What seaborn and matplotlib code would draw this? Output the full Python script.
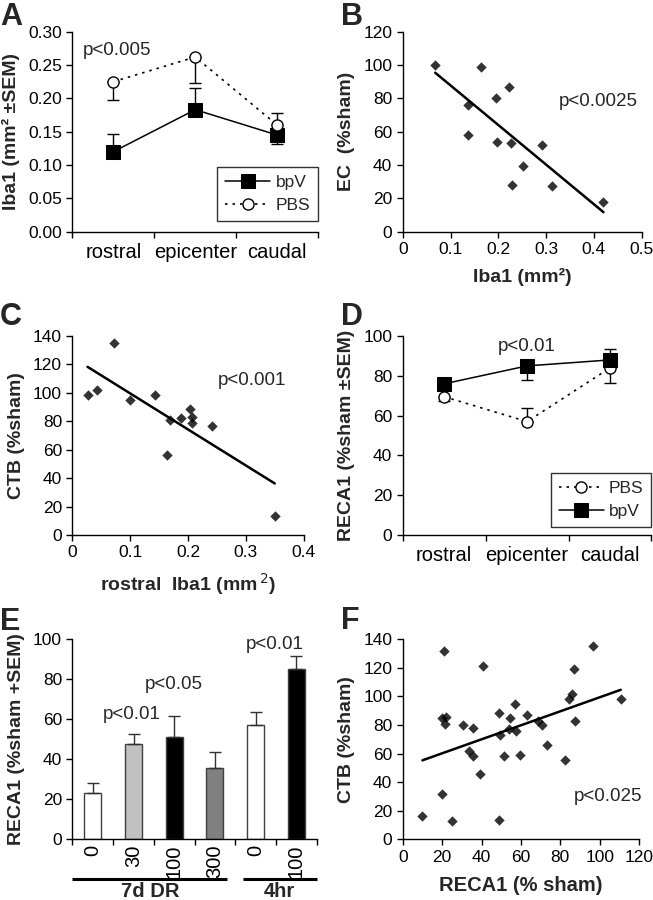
import numpy as np
import pandas as pd
import matplotlib
matplotlib.use("Agg")
import matplotlib.pyplot as plt
import matplotlib.transforms as mtransforms
import seaborn as sns

# ---- data ----
regions = ["rostral", "epicenter", "caudal"]

# A: Iba1 area (mm2), one-sided SEM (+1 up, -1 down)
a_bpv = [0.120, 0.183, 0.145]
a_bpv_sem = [0.026, 0.032, 0.013]
a_bpv_dir = [1, 1, -1]
a_pbs = [0.225, 0.262, 0.160]
a_pbs_sem = [0.027, 0.039, 0.018]
a_pbs_dir = [-1, -1, 1]

# B: EC vs Iba1
b_iba1 = [0.068, 0.163, 0.223, 0.195, 0.137, 0.137, 0.197, 0.226, 0.291, 0.252, 0.229, 0.312, 0.420]
b_ec = [100, 99, 87, 80.5, 76, 58, 54, 53.5, 52, 39.5, 28, 27.5, 17.5]

# C: CTB vs rostral Iba1
c_iba1 = [0.026, 0.042, 0.072, 0.099, 0.143, 0.163, 0.168, 0.188, 0.203, 0.207, 0.207, 0.242, 0.350]
c_ctb = [98.5, 102, 135, 95, 98.5, 56, 81, 82.5, 89, 83, 79, 76.5, 13.5]

# D: RECA1 (%sham)
d_pbs = [69.5, 57, 84]
d_pbs_sem = [2, 7, 7.5]
d_pbs_dir = [-1, 1, -1]
d_bpv = [76, 85, 88]
d_bpv_sem = [1.5, 7.3, 5.6]
d_bpv_dir = [1, -1, 1]

# E: RECA1 by dose
e_dose = ["0", "30", "100", "300", "0", "100"]
e_group = ["7d DR", "7d DR", "7d DR", "7d DR", "4hr", "4hr"]
e_mean = [23, 47.7, 51.3, 35.8, 57.2, 85.2]
e_sem = [5, 4.8, 10.5, 7.7, 6.5, 6.5]
e_colors = ["white", "#c0c0c0", "black", "#808080", "white", "black"]

# F: CTB vs RECA1
f_reca = [10, 25, 49, 20, 21, 41, 19.8, 21.8, 21.5, 30.8, 35.5, 33.6, 35.5, 39.2, 48.7,
          49.4, 51.2, 54.4, 54, 57.3, 57, 59.5, 63.2, 68.8, 70.8, 73.5, 82.5, 84.5, 86,
          87, 87.5, 96.7, 110.7]
f_ctb = [16, 12.6, 13.5, 31.7, 131.8, 121.3, 84.7, 85.4, 80.7, 80, 78.2, 61.8, 58, 45.7,
         88.7, 73, 58.3, 84.7, 77, 75.6, 94.7, 59, 87, 82.6, 80.3, 66, 55.5, 98.2, 101.7,
         119.2, 83.1, 135.3, 98.5]

# ---- style ----
sns.set_style("ticks")
plt.rcParams.update({
    "font.family": ["Liberation Sans", "DejaVu Sans"],
    "axes.linewidth": 1.0,
    "axes.edgecolor": "black",
    "xtick.major.size": 4,
    "ytick.major.size": 4,
    "xtick.major.width": 1.0,
    "ytick.major.width": 1.0,
    "xtick.color": "black",
    "ytick.color": "black",
    "xtick.labelsize": 12.5,
    "ytick.labelsize": 12.5,
    "axes.labelsize": 14,
    "axes.labelweight": "bold",
    "legend.fontsize": 12.5,
})

fig = plt.figure(figsize=(6.53, 9), dpi=100)
axA = fig.add_axes([0.111, 0.7426, 0.376, 0.2222])
axB = fig.add_axes([0.6167, 0.7426, 0.366, 0.2222])
axC = fig.add_axes([0.111, 0.4056, 0.354, 0.2210])
axD = fig.add_axes([0.6167, 0.4056, 0.381, 0.2210])
axE = fig.add_axes([0.111, 0.0674, 0.374, 0.2222])
axF = fig.add_axes([0.6167, 0.0674, 0.362, 0.2222])

for ax in [axA, axB, axC, axD, axE, axF]:
    sns.despine(ax=ax)
    ax.tick_params(direction="out")

def onesided(sem, sign):
    sem = np.asarray(sem, float)
    sign = np.asarray(sign)
    return np.vstack([np.where(sign < 0, sem, 0), np.where(sign > 0, sem, 0)])

def region_axis(ax):
    n = len(regions)
    ax.set_xlim(-0.5, n - 0.5)
    ax.set_xticks(np.arange(n + 1) - 0.5)
    ax.set_xticklabels([])
    ax.set_xticks(np.arange(n), minor=True)
    ax.set_xticklabels(regions, minor=True, fontsize=14.5)
    ax.tick_params(axis="x", which="minor", length=0, pad=8)

def group_line(ax, name, mean, sem, sgn, dotted):
    x = np.arange(len(mean))
    if dotted:
        kw = dict(marker="o", markersize=8, markerfacecolor="white", markeredgecolor="black",
                  markeredgewidth=1.0, linestyle=(0, (1.5, 3)), linewidth=1.2)
    else:
        kw = dict(marker="s", markersize=9.5, markerfacecolor="black", markeredgecolor="black",
                  linestyle="-", linewidth=1.1)
    ax.errorbar(x, mean, yerr=onesided(sem, sgn), fmt="none", ecolor="black",
                elinewidth=1.0, capsize=4, capthick=1.0, zorder=2)
    sns.lineplot(x=x, y=mean, ax=ax, color="black", label=name, zorder=3, **kw)

def legend_box(ax, y0):
    lg = ax.legend(loc="lower right", bbox_to_anchor=(1.0, y0), fancybox=False,
                   edgecolor="black", handlelength=2.6, handletextpad=0.3,
                   borderpad=0.45, labelspacing=0.45, borderaxespad=0.0)
    lg.get_frame().set_linewidth(1.0)

# ---- A ----
group_line(axA, "bpV", a_bpv, a_bpv_sem, a_bpv_dir, False)
group_line(axA, "PBS", a_pbs, a_pbs_sem, a_pbs_dir, True)
region_axis(axA)
axA.set_ylim(0, 0.30)
axA.set_yticks(np.arange(0, 0.301, 0.05))
axA.set_yticklabels([f"{v:.2f}" for v in np.arange(0, 0.301, 0.05)])
axA.set_ylabel("Iba1 (mm² ±SEM)", labelpad=6)
axA.set_xlabel("")
axA.text(-0.38, 0.2725, "p<0.005", fontsize=13.5, va="center", ha="left")
legend_box(axA, 0.055)

# ---- B ----
sns.regplot(x=b_iba1, y=b_ec, ax=axB, ci=None, color="black", marker="D",
            scatter_kws=dict(s=28, linewidths=0), line_kws=dict(linewidth=1.8))
axB.set_xlim(0, 0.5)
axB.set_ylim(0, 120)
axB.set_xticks(np.arange(0, 0.51, 0.1))
axB.set_xticklabels(["0", "0.1", "0.2", "0.3", "0.4", "0.5"])
axB.set_yticks(np.arange(0, 121, 20))
axB.set_xlabel("Iba1 (mm²)", labelpad=8)
axB.set_ylabel("EC  (%sham)", labelpad=6)
axB.text(0.326, 78.4, "p<0.0025", fontsize=13.5, va="center", ha="left")

# ---- C ----
sns.regplot(x=c_iba1, y=c_ctb, ax=axC, ci=None, color="black", marker="D",
            scatter_kws=dict(s=28, linewidths=0), line_kws=dict(linewidth=1.8))
axC.set_xlim(0, 0.4)
axC.set_ylim(0, 140)
axC.set_xticks(np.arange(0, 0.41, 0.1))
axC.set_xticklabels(["0", "0.1", "0.2", "0.3", "0.4"])
axC.set_yticks(np.arange(0, 141, 20))
axC.set_xlabel("rostral  Iba1 (mm$^{\\,2}$)", labelpad=8)
axC.set_ylabel("CTB (%sham)", labelpad=6)
axC.text(0.251, 109, "p<0.001", fontsize=13.5, va="center", ha="left")

# ---- D ----
group_line(axD, "PBS", d_pbs, d_pbs_sem, d_pbs_dir, True)
group_line(axD, "bpV", d_bpv, d_bpv_sem, d_bpv_dir, False)
region_axis(axD)
axD.set_ylim(0, 100)
axD.set_yticks(np.arange(0, 101, 20))
axD.set_ylabel("RECA1 (%sham ±SEM)", labelpad=6)
axD.set_xlabel("")
axD.text(1.0, 94.6, "p<0.01", fontsize=13.5, va="center", ha="center")
legend_box(axD, 0.04)

# ---- E ----
e_df = pd.DataFrame({"cond": [f"{g} {d}" for g, d in zip(e_group, e_dose)], "mean": e_mean})
sns.barplot(data=e_df, x="cond", y="mean", hue="cond", palette=e_colors, legend=False,
            width=0.42, edgecolor="#404040", linewidth=1.0, ax=axE)
xe = np.arange(len(e_mean))
axE.errorbar(xe, e_mean, yerr=onesided(e_sem, [1] * len(e_sem)), fmt="none", ecolor="#303030",
             elinewidth=1.0, capsize=4, capthick=1.0, zorder=1)
axE.set_xlim(-0.5, len(e_mean) - 0.5)
axE.set_xticks(np.arange(len(e_mean) + 1) - 0.5)
axE.set_xticklabels([])
axE.set_xticks(xe, minor=True)
axE.set_xticklabels(e_dose, minor=True, rotation=90, fontsize=14.5)
axE.tick_params(axis="x", which="minor", length=0, pad=4)
axE.set_ylim(0, 100)
axE.set_yticks(np.arange(0, 101, 20))
axE.set_xlabel("")
axE.set_ylabel("RECA1 (%sham +SEM)", labelpad=6)
for xt, yt, s in [(0.95, 62.2, "p<0.01"), (1.99, 77.2, "p<0.05"), (4.47, 97.6, "p<0.01")]:
    axE.text(xt, yt, s, fontsize=13.5, ha="center", va="center")
trans = mtransforms.blended_transform_factory(axE.transData, axE.transAxes)
for g in dict.fromkeys(e_group):
    idx = [i for i, gg in enumerate(e_group) if gg == g]
    x0 = idx[0] - 0.5 + (0.18 if idx[0] > 0 else 0)
    x1 = idx[-1] + 0.5 - (0.2 if idx[-1] < len(e_group) - 1 else 0)
    axE.plot([x0, x1], [-0.2, -0.2], color="black", linewidth=2.2, transform=trans,
             clip_on=False, solid_capstyle="butt")
    axE.text((x0 + x1) / 2, -0.212, g, transform=trans, ha="center", va="top",
             fontsize=14.5, fontweight="bold")

# ---- F ----
sns.regplot(x=f_reca, y=f_ctb, ax=axF, ci=None, color="black", marker="D",
            scatter_kws=dict(s=28, linewidths=0), line_kws=dict(linewidth=1.8))
axF.set_xlim(0, 120)
axF.set_ylim(0, 140)
axF.set_xticks(np.arange(0, 121, 20))
axF.set_yticks(np.arange(0, 141, 20))
axF.set_xlabel("RECA1 (% sham)", labelpad=8, fontsize=14.5)
axF.set_ylabel("CTB (%sham)", labelpad=6)
axF.text(104, 29.8, "p<0.025", fontsize=13.5, va="center", ha="center")

for lbl, x, y in [("A", 0.0, 0.998), ("B", 0.522, 0.998), ("C", 0.0, 0.664),
                  ("D", 0.522, 0.664), ("E", 0.0, 0.325), ("F", 0.522, 0.327)]:
    fig.text(x, y, lbl, fontsize=22, fontweight="bold", ha="left", va="top")

fig.savefig("out.png", dpi=100)
